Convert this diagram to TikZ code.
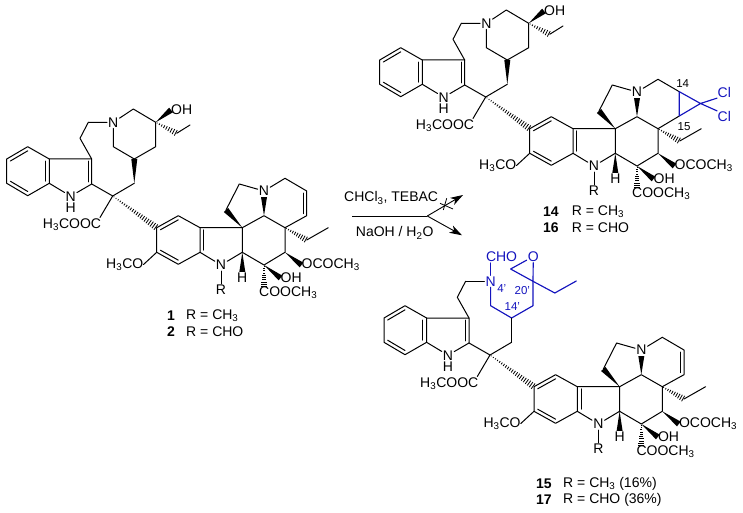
\documentclass[tikz,border=0pt]{standalone}
\usepackage{fontspec}
\setmainfont{Liberation Sans}
\usetikzlibrary{calc,arrows.meta}
\definecolor{bluech}{RGB}{20,20,190}
\tikzset{
  bond/.style={line width=1pt,line cap=round,line join=round},
  blueb/.style={line width=1.15pt,line cap=round,line join=round,bluech},
  atom/.style={inner sep=1pt,font=\fontsize{14}{14}\selectfont},
  lab/.style={inner sep=0pt,font=\fontsize{14}{14}\selectfont},
  leg/.style={inner sep=0pt,anchor=west,font=\fontsize{14}{14}\selectfont},
  legb/.style={inner sep=0pt,anchor=west,font=\fontsize{14}{14}\selectfont\bfseries},
  small/.style={inner sep=0pt,font=\fontsize{11.5}{12}\selectfont},
  rxn/.style={line width=0.9pt,-{Stealth[length=12.5pt,width=8pt,inset=3.5pt]}},
}
\newcommand{\dblb}[3]{\draw[bond] ($(#1)!.17!(#3)$) -- ($(#2)!.17!(#3)$);}
\newcommand{\wedgeb}[2]{\fill[black] (#1) -- ($(#2)!3pt!90:(#1)$) -- ($(#2)!3pt!-90:(#1)$) -- cycle;}
\newcommand{\hashb}[3]{\foreach \i in {0,...,#3}{\pgfmathsetmacro{\t}{(\i+0.6)/(#3+1)}\pgfmathsetmacro{\hw}{0.3+3*\t}
  \draw[line width=0.8pt] ($($(#1)!\t!(#2)$)!\hw pt!90:(#2)$) -- ($($(#1)!\t!(#2)$)!\hw pt!-90:(#2)$);}}
% indole, linker and the lower dimer half, common to all three structures
\newcommand{\dimercore}{
  \coordinate (b1) at (27.7,146.7); \coordinate (b2) at (49.3,159);
  \coordinate (b3) at (49.3,183.3); \coordinate (b4) at (27.7,195.7);
  \coordinate (b5) at (6.7,183.3);  \coordinate (b6) at (6.7,159);
  \coordinate (bc) at (28,171);
  \coordinate (c3) at (91.7,159);   \coordinate (c2) at (91.7,184);
  \coordinate (pc) at (71,171);
  \node[minimum width=12pt,minimum height=12pt,inner sep=0pt] (nh) at (70.7,196.2) {};
  \node[inner sep=0pt,anchor=north,align=center,font=\fontsize{14}{11}\selectfont] (nhh) at (70.7,191.2) {N\\H};
  \coordinate (e1) at (80,138.3);   \coordinate (e2) at (88.3,122.3);
  \coordinate (q) at (112.7,196);   \coordinate (co) at (100,217.5);
  \coordinate (ch) at (134.3,183.3);
  \node[lab,anchor=east] (ester) at (101.2,225) {H\textsubscript{3}COOC};
  \draw[bond] (b1)--(b2)--(b3)--(b4)--(b5)--(b6)--cycle;
  \dblb{b1}{b6}{bc}\dblb{b4}{b5}{bc}\dblb{b2}{b3}{bc}
  \draw[bond] (b2)--(c3)--(c2)--(nh)--(b3);
  \dblb{c3}{c2}{pc}
  \draw[bond] (c3)--(e1)--(e2);
  \draw[bond] (c2)--(q)--(co);
  \draw[bond] (q)--(ch);
  % aryl ring
  \coordinate (a1) at (156.7,227.7); \coordinate (a2) at (178.3,215.7);
  \coordinate (a3) at (200,227.7);   \coordinate (a4) at (200,252.3);
  \coordinate (a5) at (178.3,264.3); \coordinate (a6) at (156.7,252.3);
  \coordinate (ac) at (222,240);     \coordinate (ar) at (178.3,240);
  \draw[bond] (a1)--(a2)--(a3)--(a4)--(a5)--(a6)--cycle;
  \dblb{a1}{a2}{ar}\dblb{a5}{a6}{ar}\dblb{a3}{a4}{ac}
  \hashb{q}{a1}{20}
  \node[lab,anchor=east] (meo) at (143.5,264.5) {H\textsubscript{3}CO};
  \draw[bond] (a6)--(meo.east);
  % vindoline part
  \coordinate (d1) at (242.3,227.7); \coordinate (d2) at (242.3,252.3);
  \node[atom] (nv) at (221,265) {N};
  \node[atom] (rv) at (221,290) {R};
  \node[atom] (hv) at (242.3,278) {H};
  \coordinate (d3) at (226,210);     \coordinate (d4) at (239.3,184);
  \node[atom] (nt) at (264,191) {N};
  \coordinate (d5) at (264,215.7);   \coordinate (d6) at (285,227.7);
  \coordinate (d7) at (285,252.3);   \coordinate (d8) at (264,265);
  \coordinate (d9) at (285,178.3);
  \coordinate (et1) at (306.7,240);  \coordinate (et2) at (328.3,227.7);
  \draw[bond] (a3)--(d1)--(d2)--(nv)--(a4);
  \draw[bond] (nv)--(rv);
  \draw[bond] (d2)--(d8)--(d7)--(d6)--(d5)--(d1);
  \wedgeb{d1}{d3}
  \draw[bond] (d3)--(d4)--(nt);
  \wedgeb{d5}{nt.south}
  \draw[bond] (nt)--(d9);
  \wedgeb{d2}{hv.north}
  \hashb{d6}{et1}{9}
  \draw[bond] (et1)--(et2);
  \node[lab,anchor=west] (oac) at (301.5,265) {OCOCH\textsubscript{3}};
  \wedgeb{d7}{oac.west}
  \node[lab,anchor=west] (oh) at (280.5,278) {OH};
  \wedgeb{d8}{oh.west}
  \node[lab,anchor=west] (est2) at (259,293) {COOCH\textsubscript{3}};
  \coordinate (d10) at (264,287.5);
  \hashb{d8}{d10}{9}
}
% piperidine ring of 1 and 14
\newcommand{\topring}{
  \node[atom] (np) at (113.3,122.3) {N};
  \coordinate (p1) at (133.3,109);   \coordinate (p2) at (155.7,122.3);
  \coordinate (p3) at (155.7,146.7); \coordinate (p4) at (134.3,159);
  \coordinate (p5) at (113.3,146.7); \coordinate (pe1) at (176.7,133.3);
  \coordinate (pe2) at (190,125);
  \draw[bond] (e2)--(np)--(p1)--(p2)--(p3)--(p4)--(p5)--(np);
  \node[lab,anchor=west] (oht) at (171,110) {OH};
  \wedgeb{p2}{oht.west}
  \hashb{p2}{pe1}{8}
  \draw[bond] (pe1)--(pe2);
  \wedgeb{ch}{p4}
}
\begin{document}
\begin{tikzpicture}[x=1pt,y=-1pt]
\useasboundingbox (0,0) rectangle (743,513);
% ---- structure 1 / 2
\begin{scope}
  \dimercore \topring
  \coordinate (al1) at (306.7,191); \coordinate (al2) at (306.7,215.7); \coordinate (alc) at (285,203);
  \draw[bond] (d9)--(al1)--(al2)--(d6);
  \dblb{al1}{al2}{alc}
\end{scope}
\node[legb] (n1) at (167,316) {1};
\node[leg] (t1) at (186,316) {R = CH\textsubscript{3}};
\node[legb] (n2) at (167,332) {2};
\node[leg] (t2) at (186,332) {R = CHO};
% ---- arrow
\coordinate (ar0) at (352.3,216); \coordinate (ar1) at (427.3,216);
\coordinate (ar2) at (463,195); \coordinate (ar3) at (462,235.3);
\coordinate (cx1) at (446.7,198.3); \coordinate (cx2) at (443.3,210);
\coordinate (cx3) at (440,203.3); \coordinate (cx4) at (453,209);
\draw[line width=0.9pt] (ar0)--(ar1);
\draw[rxn] (ar1)--(ar2);
\draw[rxn] (ar1)--(ar3);
\draw[line width=0.8pt] (cx1)--(cx2) (cx3)--(cx4);
\node[lab,anchor=west] (r1) at (344,198) {CHCl\textsubscript{3}, TEBAC};
\node[lab,anchor=west] (r2) at (355.7,233) {NaOH / H\textsubscript{2}O};
% ---- structure 14 / 16
\begin{scope}[shift={(373,-99)}]
  \dimercore \topring
  \coordinate (y1) at (306.3,190.7); \coordinate (y2) at (306.3,215);
  \coordinate (y3) at (327.5,202.5);
  \draw[bond] (d9)--(y1);
  \draw[bond] (y2)--(d6);
  \draw[blueb] (y1)--(y2)--(y3)--cycle;
  \node[atom,text=bluech,anchor=west,inner sep=0.5pt] (cl1) at (344,191.3) {Cl};
  \node[atom,text=bluech,anchor=west,inner sep=0.5pt] (cl2) at (344,215.7) {Cl};
  \draw[blueb] (y3)--(cl1.south west) (y3)--(cl2.north west);
  \node[small] (l14) at (309.7,183) {14};
  \node[small] (l15) at (311,225.7) {15};
\end{scope}
\node[legb] (n14) at (543,212) {14};
\node[leg] (t14) at (571.7,212) {R = CH\textsubscript{3}};
\node[legb] (n16) at (543,228) {16};
\node[leg] (t16) at (571.7,228) {R = CHO};
% ---- structure 15 / 17
\begin{scope}[shift={(377.3,159)}]
  \dimercore
  \node[atom,text=bluech] (np) at (113.3,122.3) {N};
  \coordinate (p1) at (133.3,110);   \coordinate (p2) at (155.7,122.3);
  \coordinate (p3) at (155.7,146.7); \coordinate (p4) at (134.3,159);
  \coordinate (p5) at (113.3,146.7);
  \coordinate (pe1) at (177.5,134);  \coordinate (pe2) at (199,122);
  \node[atom,text=bluech] (ox) at (156,97.5) {O};
  \node[atom,text=bluech,anchor=west,inner sep=0pt] (cho) at (108.5,98) {CHO};
  \coordinate (chob) at ($(cho.west)+(4.8,6)$);
  \draw[bond] (e2)--(np);
  \draw[blueb] (np)--(p5)--(p4)--(p3)--(p2)--(p1)--(ox)--(p2);
  \draw[blueb] (np)--(chob);
  \draw[blueb] (p2)--(pe1)--(pe2);
  \draw[bond] (ch)--(p4);
  \node[small,text=bluech] (l4) at (124.5,129.5) {4'};
  \node[small,text=bluech] (l20) at (145,131.5) {20'};
  \node[small,text=bluech] (l14p) at (135,147.5) {14'};
  \coordinate (al1) at (306.7,191); \coordinate (al2) at (306.7,215.7); \coordinate (alc) at (285,203);
  \draw[bond] (d9)--(al1)--(al2)--(d6);
  \dblb{al1}{al2}{alc}
\end{scope}
\node[legb] (n15) at (536,483.5) {15};
\node[leg] (t15) at (563,483.5) {R = CH\textsubscript{3} (16\%)};
\node[legb] (n17) at (536,500) {17};
\node[leg] (t17) at (563,500) {R = CHO (36\%)};
\end{tikzpicture}
\end{document}
